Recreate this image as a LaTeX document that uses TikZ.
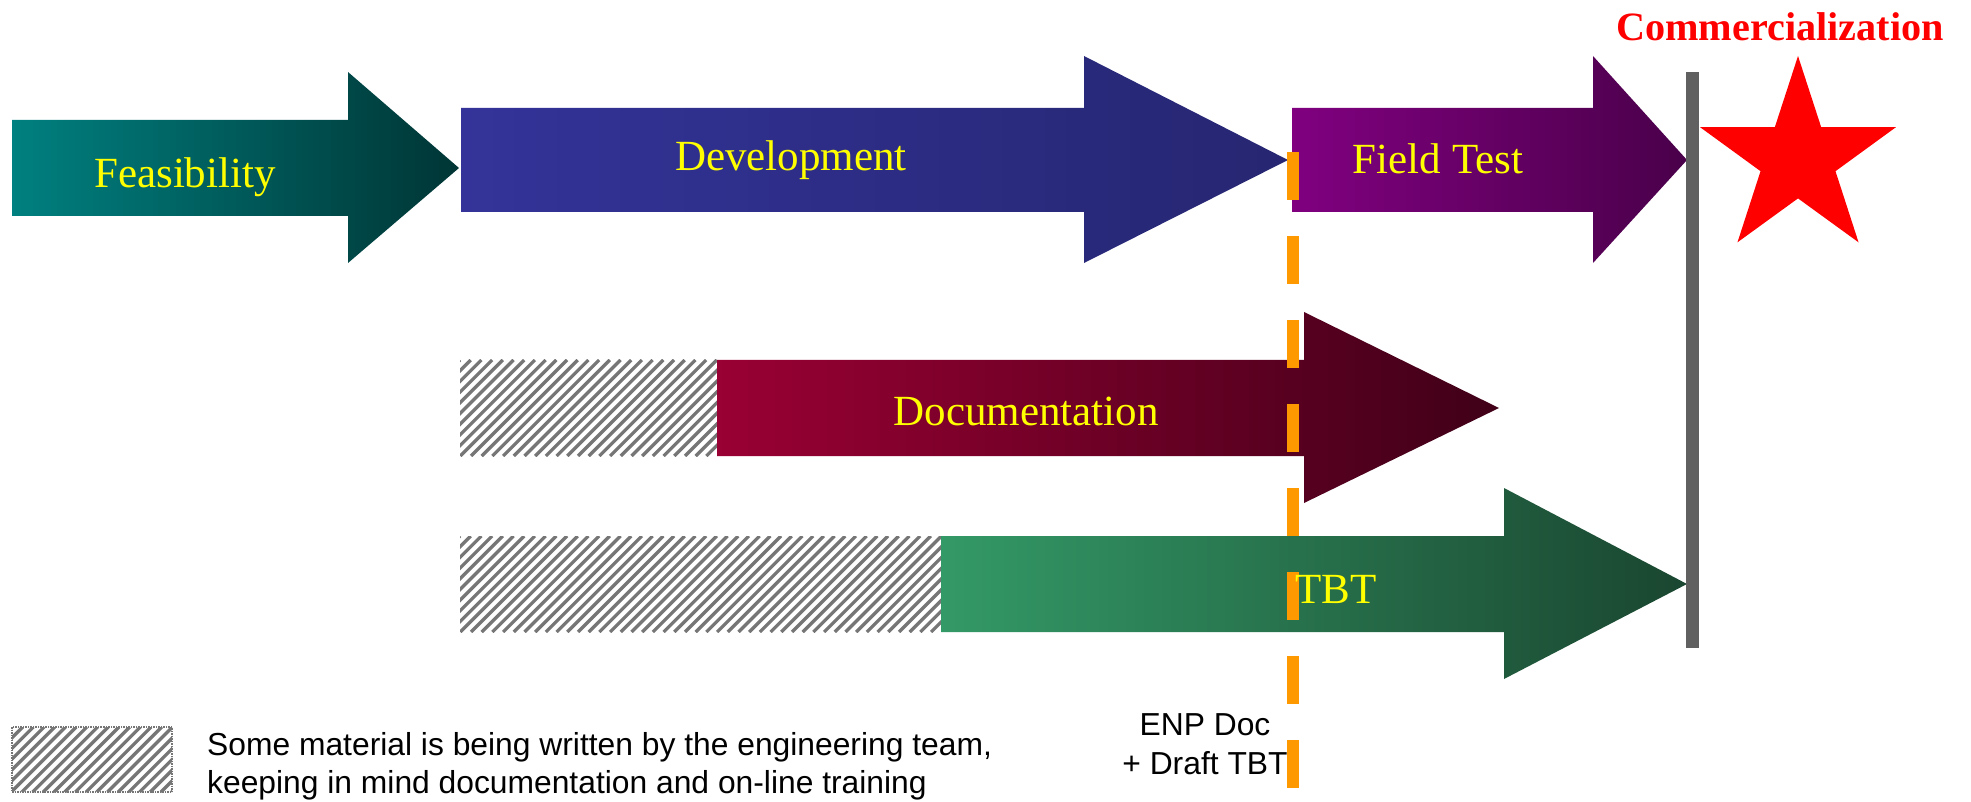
\documentclass[tikz,border=0pt]{standalone}
\usepackage{fontspec}
\setmainfont{Liberation Serif}
\newfontfamily\arialfont{Liberation Sans}
\definecolor{feasL}{HTML}{008080}
\definecolor{feasR}{HTML}{003535}
\definecolor{devL}{HTML}{333399}
\definecolor{devR}{HTML}{262672}
\definecolor{ftL}{HTML}{800080}
\definecolor{ftR}{HTML}{4A004A}
\definecolor{docL}{HTML}{990033}
\definecolor{docR}{HTML}{400018}
\definecolor{tbtL}{HTML}{339966}
\definecolor{tbtR}{HTML}{1A4630}
\definecolor{hatchgray}{HTML}{767676}
\definecolor{barGray}{HTML}{606060}
\definecolor{dashOrange}{HTML}{FF9900}
\definecolor{labelYellow}{HTML}{FFFF00}
\newcommand{\hatchbox}[4]{%
  \begin{scope}
    \clip (#1,#2) rectangle (#3,#4);
    \fill[white] (#1,#2) rectangle (#3,#4);
    \pgfmathsetmacro\hh{#4-#2}
    \pgfmathsetmacro\xs{#1-\hh}
    \pgfmathsetmacro\xn{\xs+10.7}
    \foreach \xx in {\xs,\xn,...,#3} {\draw[hatchline] (\xx,#4) -- ++(\hh,-\hh);}
  \end{scope}}
\begin{document}
\begin{tikzpicture}[x=1pt,y=-1pt,
  hatchline/.style={draw=hatchgray,line width=3.3pt},
  phaselabel/.style={text=labelYellow,font=\fontsize{43}{50}\selectfont,anchor=base,inner sep=0pt},
  noteText/.style={font=\arialfont\fontsize{31.8}{38}\selectfont,inner sep=0pt,text=black},
  orangeDash/.style={draw=dashOrange,line width=12pt,dash pattern=on 48pt off 36pt}]
\useasboundingbox[fill=white] (0,0) rectangle (1971,802);

% Feasibility
\shade[left color=feasL,right color=feasR]
  (12,120) -- (348,120) -- (348,72) -- (459,168) -- (348,263) -- (348,216) -- (12,216) -- cycle;
% Development
\shade[left color=devL,right color=devR]
  (461,108) -- (1084,108) -- (1084,56) -- (1288,160) -- (1084,263) -- (1084,212) -- (461,212) -- cycle;
% Field Test
\shade[left color=ftL,right color=ftR]
  (1292,108) -- (1593,108) -- (1593,56) -- (1687,160) -- (1593,263) -- (1593,212) -- (1292,212) -- cycle;
% Documentation
\hatchbox{460}{360}{717}{456}
\shade[left color=docL,right color=docR]
  (717,360) -- (1304,360) -- (1304,312) -- (1499,408) -- (1304,503) -- (1304,456) -- (717,456) -- cycle;
% TBT
\hatchbox{460}{536}{941}{632}
\shade[left color=tbtL,right color=tbtR]
  (941,536) -- (1504,536) -- (1504,488) -- (1687,584) -- (1504,679) -- (1504,632) -- (941,632) -- cycle;

% commercialization bar
\fill[barGray] (1686,72) rectangle (1699,648);
% star
\fill[red,shift={(1798,159)}] (-90:103) -- (-54:39.4) -- (-18:103) -- (18:39.4) -- (54:103)
  -- (90:39.4) -- (126:103) -- (162:39.4) -- (198:103) -- (234:39.4) -- cycle;

% orange milestone line
\coordinate (msTop) at (1293,152);
\coordinate (msBot) at (1293,788);
\draw[orangeDash] (msTop) -- (msBot);

% labels
\node[phaselabel] (feas) at (185,188) {Feasibility};
\node[phaselabel] (dev) at (791,171) {Development};
\node[phaselabel] (ft) at (1438,174) {Field Test};
\node[phaselabel] (doc) at (1026,425) {Documentation};
\node[phaselabel] (tbt) at (1336,603) {TBT};
\node[text=red,font=\fontsize{40.2}{48}\selectfont\bfseries,anchor=base,inner sep=0pt] (comm) at (1780,41) {Commercialization};

\node[noteText,align=center,anchor=base] (enp) at (1205,774) {ENP Doc\\[1pt]+ Draft TBT};

% legend
\hatchbox{12}{727}{172}{792}
\draw[hatchgray,densely dotted,line width=1.5pt] (12,727) rectangle (172,792);
\node[noteText,align=left,anchor=base west] (legend) at (207,793)
  {Some material is being written by the engineering team,\\keeping in mind documentation and on-line training};
\end{tikzpicture}
\end{document}
